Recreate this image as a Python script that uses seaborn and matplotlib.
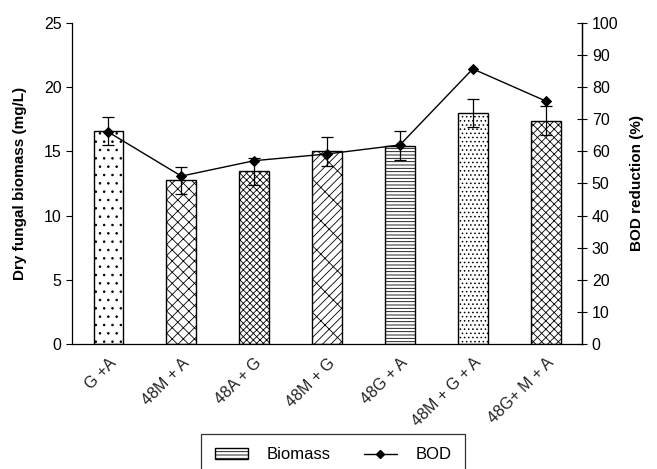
import numpy as np
import matplotlib
matplotlib.use("Agg")
import matplotlib.pyplot as plt
import seaborn as sns
from matplotlib.patches import Patch
from matplotlib.lines import Line2D

# --- Data ---
TREATMENTS = ["G +A", "48M + A", "48A + G", "48M + G", "48G + A", "48M + G + A", "48G+ M + A"]
BIOMASS = [16.6, 12.75, 13.45, 15.0, 15.45, 18.0, 17.4]
BIOMASS_ERR = [1.1, 1.05, 1.07, 1.1, 1.15, 1.1, 1.1]
BOD = [66.0, 52.3, 57.1, 59.2, 62.0, 85.7, 75.7]
HATCHES = ["..", "xxx", "xxxxx", "x///", "-----", "....", "xxxx"]

sns.set_theme(style="white")
plt.rcParams['font.family'] = ['Liberation Sans', 'DejaVu Sans']
plt.rcParams['hatch.linewidth'] = 0.6
plt.rcParams['text.color'] = 'black'

fig = plt.figure(figsize=(6.57, 4.69), dpi=100)
ax = fig.add_axes([0.1096, 0.2665, 0.7764, 0.6845])

sns.barplot(x=TREATMENTS, y=BIOMASS, ax=ax, color="white", width=0.41,
            errorbar=None, edgecolor="black", linewidth=1.0)
for patch, h in zip(ax.patches, HATCHES):
    patch.set_hatch(h)
    patch.set_facecolor("white")
    patch.set_edgecolor("black")

xpos = np.arange(len(TREATMENTS))
ax.errorbar(xpos, BIOMASS, yerr=BIOMASS_ERR, fmt="none", ecolor="black",
            elinewidth=0.9, capsize=4, capthick=0.9, zorder=5)

ax.set_ylim(0, 25)
ax.set_xlim(-0.5, 6.5)
ax.set_yticks(range(0, 26, 5))
ax.set_ylabel("Dry fungal biomass (mg/L)", fontsize=11, fontweight="bold", labelpad=12, color="black")
ax.set_xlabel("")
ax.set_xticks(xpos)
ax.set_xticklabels(TREATMENTS, rotation=45, ha="right", rotation_mode="anchor", fontsize=11.5)
ax.tick_params(axis="y", direction="out", length=4, width=0.8, left=True, labelsize=11.5, colors="black")
ax.tick_params(axis="x", length=0, pad=8, labelcolor="#222222")
for side in ["left", "bottom", "right"]:
    ax.spines[side].set_color("black")
    ax.spines[side].set_linewidth(0.9)
ax.spines["top"].set_visible(False)

ax2 = ax.twinx()
sns.lineplot(x=xpos, y=BOD, ax=ax2, color="black", marker="D", markersize=5,
             linewidth=1.0, markeredgecolor="black", zorder=6)
ax2.set_ylim(0, 100)
ax2.set_yticks(range(0, 101, 10))
ax2.set_ylabel("BOD reduction (%)", fontsize=11, fontweight="bold", labelpad=8, color="black")
ax2.tick_params(axis="y", direction="inout", length=7, width=0.8, right=True, labelsize=11.5, colors="black")
ax2.spines["top"].set_visible(False)
ax2.spines["left"].set_visible(False)
ax2.spines["bottom"].set_visible(False)
ax2.spines["right"].set_color("black")
ax2.spines["right"].set_linewidth(0.9)

handles = [Patch(facecolor="white", edgecolor="black", hatch="-----", label="Biomass"),
           Line2D([0], [0], color="black", marker="D", markersize=4, linewidth=1.0, label="BOD")]
leg = fig.legend(handles=handles, loc="lower center", bbox_to_anchor=(0.507, -0.025), ncol=2,
                 frameon=True, fancybox=False, edgecolor="black", fontsize=12,
                 handlelength=2.0, columnspacing=2.0, borderpad=0.8, handletextpad=1.1,
                 borderaxespad=0.3)
leg.get_frame().set_linewidth(0.9)

fig.savefig("out.png", dpi=100)
